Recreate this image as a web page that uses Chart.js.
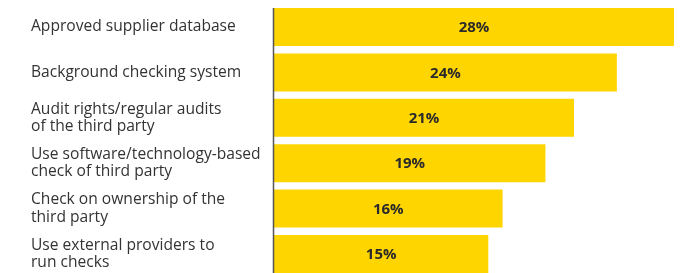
<!DOCTYPE html>
<html>
<head>
<meta charset="utf-8">
<script src="https://cdn.jsdelivr.net/npm/chart.js@4"></script>
<style>
  html, body { margin: 0; padding: 0; background: #fff; overflow: hidden; }
  #wrap { width: 690px; height: 273px; position: relative; }
</style>
</head>
<body>
<div id="wrap"><canvas id="chart"></canvas></div>
<script>
'use strict';

const categories = [
  'Approved supplier database',
  'Background checking system',
  ['Audit rights/regular audits', 'of the third party'],
  ['Use software/technology-based', 'check of third party'],
  ['Check on ownership of the', 'third party'],
  ['Use external providers to', 'run checks']
];
const values = [28, 24, 21, 19, 16, 15];

const BAR_COLOR = '#ffd500';
const TEXT_COLOR = '#333333';
const LABEL_FONT = '"Open Sans", Arial, sans-serif';

// value labels centred in each bar + the vertical axis line spanning all bars
const barExtras = {
  id: 'barExtras',
  afterDatasetsDraw(chart) {
    const { ctx } = chart;
    const meta = chart.getDatasetMeta(0);
    ctx.save();
    ctx.font = 'bold 15px ' + LABEL_FONT;
    ctx.fillStyle = '#2a2a2a';
    ctx.textAlign = 'center';
    ctx.textBaseline = 'middle';
    meta.data.forEach((bar, i) => {
      const cx = (bar.base + bar.x) / 2;
      ctx.fillText(values[i] + '%', cx, bar.y + 1);
    });
    // axis line
    const first = meta.data[0];
    const last = meta.data[meta.data.length - 1];
    const x0 = chart.scales.x.getPixelForValue(0);
    ctx.strokeStyle = '#555';
    ctx.lineWidth = 1.5;
    ctx.beginPath();
    ctx.moveTo(x0 - 0.5, first.y - first.height / 2);
    ctx.lineTo(x0 - 0.5, last.y + last.height / 2);
    ctx.stroke();
    ctx.restore();
  }
};

new Chart(document.getElementById('chart'), {
  type: 'bar',
  data: {
    labels: categories,
    datasets: [{
      data: values,
      backgroundColor: BAR_COLOR,
      borderWidth: 0,
      barPercentage: 0.837,
      categoryPercentage: 1,
      clip: false
    }]
  },
  options: {
    indexAxis: 'y',
    responsive: true,
    maintainAspectRatio: false,
    animation: false,
    events: [],
    layout: { padding: { left: 31, right: 16, top: 27, bottom: 19 } },
    plugins: { legend: { display: false }, tooltip: { enabled: false } },
    scales: {
      x: {
        display: false,
        min: 0,
        max: 28
      },
      y: {
        offset: false,
        grid: { display: false, drawTicks: false },
        border: { display: false },
        ticks: {
          crossAlign: 'far',
          padding: 0,
          color: TEXT_COLOR,
          font: { family: LABEL_FONT, size: 15.6, lineHeight: 1.1 }
        },
        afterFit(scale) { scale.width = 243; }
      }
    }
  },
  plugins: [barExtras]
});
</script>
</body>
</html>
